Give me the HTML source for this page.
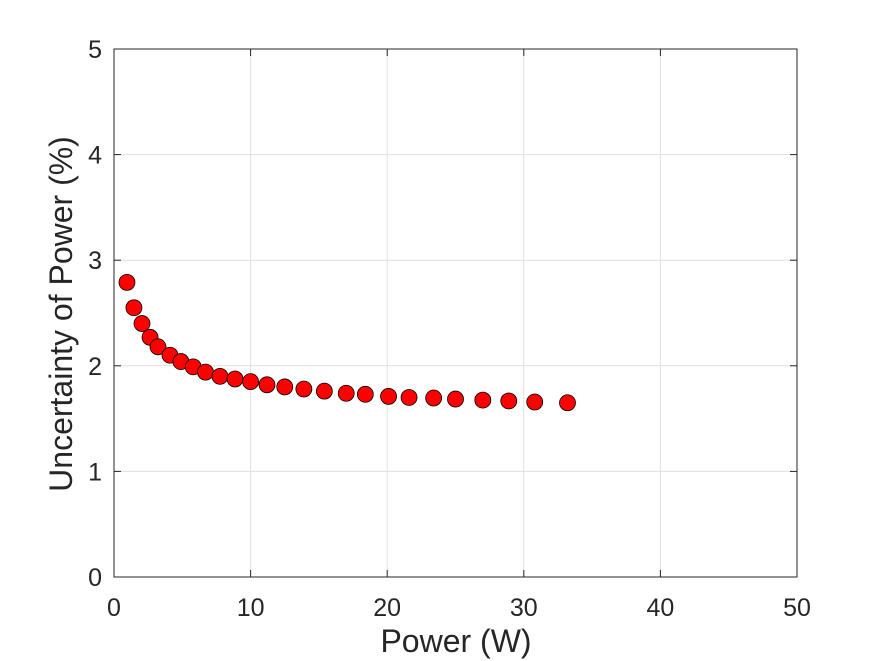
<!DOCTYPE html>
<html>
<head>
<meta charset="utf-8">
<style>
html,body{margin:0;padding:0;background:#fff;}
svg{display:block;font-family:"Liberation Sans",Arial,sans-serif;}
</style>
</head>
<body>
<svg id="chart" width="882" height="661" viewBox="0 0 882 661">
  <rect x="0" y="0" width="882" height="661" fill="#fff"/>
  <g id="grid"></g>
  <g id="ticks"></g>
  <rect x="114" y="49" width="683" height="528" fill="none" stroke="#262626" stroke-width="1"/>
  <g id="points"></g>
  <text x="456" y="652" text-anchor="middle" font-size="32" fill="#262626">Power (W)</text>
  <text transform="translate(72,314) rotate(-90)" text-anchor="middle" font-size="32" fill="#262626">Uncertainty of Power (%)</text>
</svg>
<script>
const xValues = [0.95,1.46,2.05,2.64,3.22,4.1,4.9,5.8,6.7,7.76,8.86,10.0,11.2,12.5,13.9,15.4,17.0,18.4,20.1,21.6,23.4,25.0,27.0,28.9,30.8,33.2];
const yValues = [2.79,2.55,2.40,2.27,2.18,2.10,2.04,1.99,1.94,1.90,1.875,1.85,1.82,1.80,1.78,1.76,1.74,1.73,1.71,1.70,1.695,1.685,1.675,1.667,1.657,1.65];
const xTicks = [0,10,20,30,40,50];
const yTicks = [0,1,2,3,4,5];

const NS = "http://www.w3.org/2000/svg";
const X0 = 114, X1 = 797, Y0 = 577, Y1 = 49;
function xScale(v){ return X0 + (v - 0) / 50 * (X1 - X0); }
function yScale(v){ return Y0 - (v - 0) / 5 * (Y0 - Y1); }
function mk(tag, attrs){ const e = document.createElementNS(NS, tag); for (const k in attrs) e.setAttribute(k, attrs[k]); return e; }

const grid = document.getElementById('grid');
const ticks = document.getElementById('ticks');
xTicks.forEach(t => {
  const x = xScale(t);
  const g = mk('line', {x1:x, x2:x, y1:Y1, y2:Y0, stroke:'#dfdfdf', 'stroke-width':1});
  
  
  grid.appendChild(g);
  const tk1 = mk('line', {x1:x, x2:x, y1:Y0, y2:Y0-7, stroke:'#262626', 'stroke-width':1});
  
  
  ticks.appendChild(tk1);
  const tk2 = mk('line', {x1:x, x2:x, y1:Y1, y2:Y1+7, stroke:'#262626', 'stroke-width':1});
  
  
  ticks.appendChild(tk2);
  const lbl = mk('text', {x:x, y:616, 'text-anchor':'middle', 'font-size':25, fill:'#262626'});
  
  
  lbl.textContent = t;
  ticks.appendChild(lbl);
});
yTicks.forEach(t => {
  const y = yScale(t);
  const g = mk('line', {x1:X0, x2:X1, y1:y, y2:y, stroke:'#dfdfdf', 'stroke-width':1});
  
  
  grid.appendChild(g);
  const tk1 = mk('line', {x1:X0, x2:X0+7, y1:y, y2:y, stroke:'#262626', 'stroke-width':1});
  
  
  ticks.appendChild(tk1);
  const tk2 = mk('line', {x1:X1, x2:X1-7, y1:y, y2:y, stroke:'#262626', 'stroke-width':1});
  
  
  ticks.appendChild(tk2);
  const lbl = mk('text', {x:102, y:y+9, 'text-anchor':'end', 'font-size':25, fill:'#262626'});
  
  
  lbl.textContent = t;
  ticks.appendChild(lbl);
});
const pts = document.getElementById('points');
xValues.forEach((xv, i) => {
  const c = mk('circle', {cx:xScale(xv), cy:yScale(yValues[i]), r:8, fill:'#ff0000', stroke:'#000', 'stroke-width':0.8});
  
  
  pts.appendChild(c);
});
</script>
</body>
</html>
